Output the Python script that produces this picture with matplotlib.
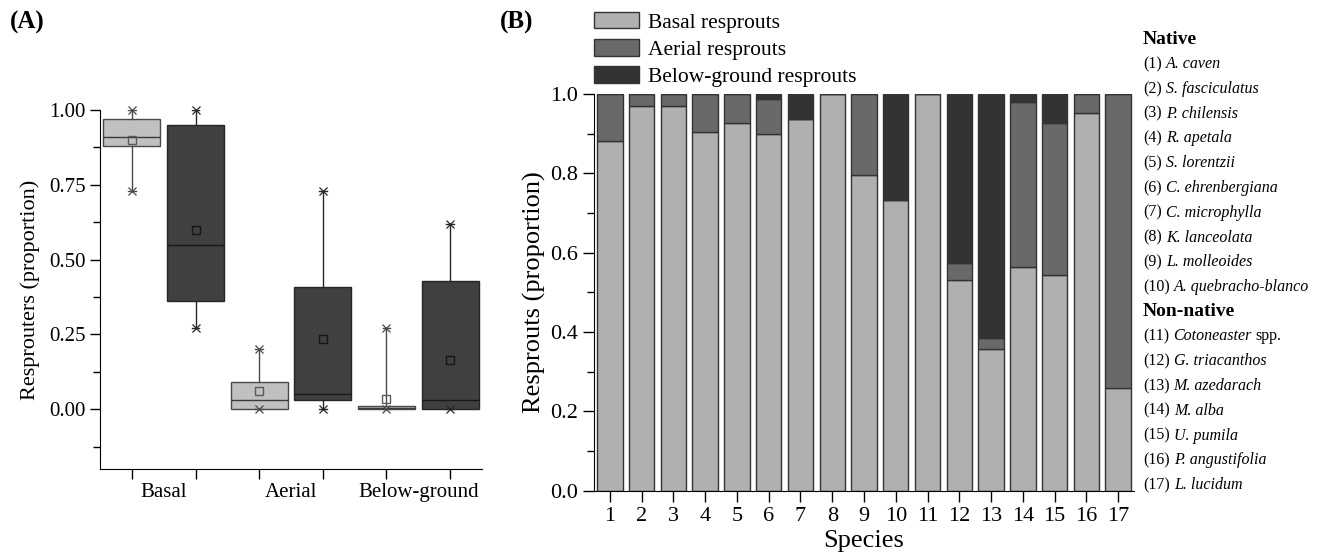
#!/usr/bin/env python3
"""Resprouting types: boxplots by origin (A) and stacked proportions by species (B)."""

import matplotlib

matplotlib.use("Agg")
import matplotlib.pyplot as plt
from matplotlib.patches import Patch
from matplotlib.ticker import FixedLocator

plt.rcParams["font.family"] = ["Liberation Serif", "DejaVu Serif"]

# ---- panel A: summary stats read off the boxes (native / non-native alternating)
box_groups = ["Basal", "Aerial", "Below-ground"]
box_q1 = [0.88, 0.36, 0.00, 0.03, 0.00, 0.00]
box_q3 = [0.97, 0.95, 0.09, 0.41, 0.01, 0.43]
box_median = [0.91, 0.55, 0.03, 0.05, 0.003, 0.03]
box_mean = [0.90, 0.60, 0.06, 0.235, 0.033, 0.165]
box_low = [0.73, 0.27, 0.00, 0.00, 0.00, 0.00]
box_high = [1.00, 1.00, 0.20, 0.73, 0.27, 0.62]

# ---- panel B: proportion of each resprout type per species
species = list(range(1, 18))
basal = [0.881, 0.969, 0.969, 0.905, 0.926, 0.898, 0.938, 1.0, 0.797,
         0.734, 1.0, 0.530, 0.356, 0.565, 0.543, 0.951, 0.259]
aerial = [0.119, 0.031, 0.031, 0.095, 0.074, 0.090, 0.0, 0.0, 0.203,
          0.0, 0.0, 0.043, 0.030, 0.414, 0.383, 0.049, 0.741]
below = [0.0, 0.0, 0.0, 0.0, 0.0, 0.012, 0.062, 0.0, 0.0,
         0.266, 0.0, 0.427, 0.614, 0.021, 0.074, 0.0, 0.0]
series_names = ["Basal resprouts", "Aerial resprouts", "Below-ground resprouts"]

native_names = ["A. caven", "S. fasciculatus", "P. chilensis", "R. apetala", "S. lorentzii",
                "C. ehrenbergiana", "C. microphylla", "K. lanceolata", "L. molleoides",
                "A. quebracho-blanco"]
nonnative_names = ["Cotoneaster", "G. triacanthos", "M. azedarach", "M. alba", "U. pumila",
                   "P. angustifolia", "L. lucidum"]

W, H = 1324, 555
fig = plt.figure(figsize=(W / 100, H / 100), dpi=100)

# ================= panel A =================
axA = fig.add_axes([100 / W, 1 - 469 / H, 382 / W, 359 / H])
positions = list(range(1, 7))
light, dark = "#c0c0c0", "#404040"
for i in range(6):
    st = {
        "q1": box_q1[i], "q3": box_q3[i], "med": box_median[i], "mean": box_mean[i],
        "whislo": box_low[i], "whishi": box_high[i], "fliers": [],
    }
    is_native = i % 2 == 0
    face = light if is_native else dark
    line = "#4a4a4a" if is_native else "#262626"
    axA.bxp([st], positions=[positions[i]], widths=0.9, patch_artist=True,
            showmeans=True, showfliers=False, capwidths=0.12,
            boxprops=dict(facecolor=face, edgecolor=line, linewidth=1.0),
            medianprops=dict(color="#3a3a3a" if is_native else "#181818", linewidth=1.0),
            whiskerprops=dict(color=line, linewidth=1.0),
            capprops=dict(color=line, linewidth=1.0),
            meanprops=dict(marker="s", markersize=6, markerfacecolor="none",
                           markeredgecolor="#5a5a5a" if is_native else "#151515",
                           markeredgewidth=1.0))
    axA.plot([positions[i]] * 2, [box_low[i], box_high[i]], linestyle="none", marker="x",
             markersize=6, color=line, markeredgewidth=0.9, clip_on=False, zorder=5)

axA.set_xlim(0.5, 6.5)
axA.set_ylim(-0.2, 1.0)
axA.yaxis.set_major_locator(FixedLocator([0, 0.25, 0.5, 0.75, 1.0]))
axA.yaxis.set_minor_locator(FixedLocator([-0.125, 0.125, 0.375, 0.625, 0.875]))
axA.set_yticklabels(["0.00", "0.25", "0.50", "0.75", "1.00"])
axA.xaxis.set_major_locator(FixedLocator(positions))
axA.set_xticklabels([""] * 6)
axA.xaxis.set_minor_locator(FixedLocator([1.5, 3.5, 5.5]))
axA.set_xticklabels(box_groups, minor=True)
axA.tick_params(axis="x", which="minor", length=0, pad=10, labelsize=15)
axA.tick_params(axis="x", which="major", length=7, width=1, direction="out")
axA.tick_params(axis="y", which="major", length=7, width=1, direction="out", labelsize=15)
axA.tick_params(axis="y", which="minor", length=5, width=1, direction="out")
axA.spines["top"].set_visible(False)
axA.spines["right"].set_visible(False)
axA.set_ylabel("Resprouters (proportion)", fontsize=16, labelpad=6)
fig.text(10 / W, 1 - 22 / H, "(A)", fontsize=18, fontweight="bold", va="center", ha="left")

# ================= panel B =================
axB = fig.add_axes([594 / W, 1 - 490.7 / H, 540 / W, 396.7 / H])
colors = ["#b0b0b0", "#696969", "#333333"]
bottom = [0.0] * len(species)
for vals, col, name in zip([basal, aerial, below], colors, series_names):
    axB.bar(species, vals, width=0.8, bottom=bottom, color=col, edgecolor="#333333",
            linewidth=1.0, label=name)
    bottom = [b + v for b, v in zip(bottom, vals)]

axB.set_xlim(0.5, 17.5)
axB.set_ylim(0, 1.0)
axB.set_xticks(species)
yt = [0.0, 0.2, 0.4, 0.6, 0.8, 1.0]
axB.set_yticks(yt)
axB.set_yticklabels([f"{v:.1f}" for v in yt])
axB.yaxis.set_minor_locator(FixedLocator([0.1, 0.3, 0.5, 0.7, 0.9]))
axB.tick_params(axis="both", which="major", length=8, width=1, direction="out", labelsize=16)
axB.tick_params(axis="y", which="minor", length=5, width=1, direction="out")
axB.spines["top"].set_visible(False)
axB.spines["right"].set_visible(False)
axB.set_xlabel("Species", fontsize=19, labelpad=3)
axB.set_ylabel("Resprouts (proportion)", fontsize=19, labelpad=3)
fig.text(500 / W, 1 - 22 / H, "(B)", fontsize=18, fontweight="bold", va="center", ha="left")

handles = [Patch(facecolor=c, edgecolor="#333333", linewidth=1.0) for c in colors]
axB.legend(handles, series_names, loc="upper left", bbox_to_anchor=(0.0, 1.207),
           frameon=False, borderaxespad=0, borderpad=0, fontsize=15.5,
           handlelength=2.1, handleheight=0.8, handletextpad=0.4, labelspacing=0.3)

# ---- species key on the right
renderer = fig.canvas.get_renderer()
x0 = 1143 / W
row0, step = 39, 24.75


def key_row(i, num, name, suffix=""):
    y = 1 - (row0 + step * i + 4.5) / H
    t = fig.text(x0, y, f"({num})", fontsize=11.5, va="baseline", ha="left")
    w = t.get_window_extent(renderer).width + 4
    t2 = fig.text(x0 + w / W, y, name, fontsize=11.5, style="italic", va="baseline", ha="left")
    if suffix:
        w2 = t2.get_window_extent(renderer).width + 4
        fig.text(x0 + (w + w2) / W, y, suffix, fontsize=11.5, va="baseline", ha="left")


fig.text(x0, 1 - row0 / H, "Native", fontsize=14, fontweight="bold", va="center", ha="left")
for k, name in enumerate(native_names):
    key_row(k + 1, k + 1, name)
fig.text(x0, 1 - (row0 + step * 11) / H, "Non-native", fontsize=14, fontweight="bold",
         va="center", ha="left")
for k, name in enumerate(nonnative_names):
    num = len(native_names) + k + 1
    key_row(12 + k, num, name, "spp." if k == 0 else "")

fig.savefig("out.png", dpi=100)
